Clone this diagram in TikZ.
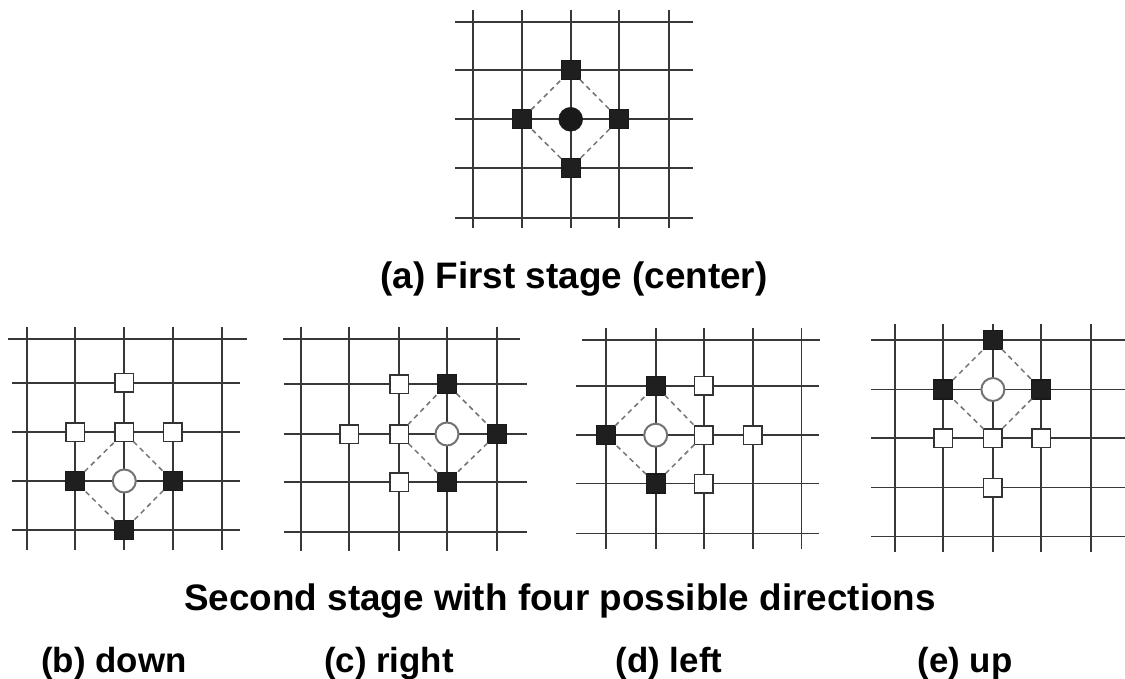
\documentclass[tikz,border=0pt]{standalone}
\usepackage{fontspec}
\setmainfont{Liberation Sans}
% one unit = one point of the page, y grows downwards
\newcommand\latticegrid[6]{% #1 columns, #2 rows, #3/#4 left/right ends, #5/#6 top/bottom ends
  \foreach \gx in {#1} \draw[gridline] (\gx,#5) -- (\gx,#6);
  \foreach \gy in {#2} \draw[gridline] (#3,\gy) -- (#4,\gy);
}
\begin{document}
\begin{tikzpicture}[x=1bp,y=-1bp,
  gridline/.style={line width=1.7bp, draw=black!78},
  fullsq/.style={rectangle, draw=black!90, fill=black!88, line width=1.2bp,
    minimum size=19bp, inner sep=0pt, outer sep=0pt},
  opensq/.style={rectangle, draw=black!80, fill=white, line width=1.5bp,
    minimum size=18.5bp, inner sep=0pt, outer sep=0pt},
  fullpt/.style={circle, draw=black!90, fill=black!90, minimum size=24bp,
    inner sep=0pt, outer sep=0pt},
  openpt/.style={circle, draw=black!55, fill=white, line width=2bp,
    minimum size=23bp, inner sep=0pt, outer sep=0pt},
  link/.style={draw=black!55, dash pattern=on 5bp off 4bp, line width=1.5bp},
  title/.style={font=\fontsize{37}{40}\selectfont\bfseries, anchor=base, inner sep=0pt},
  caption/.style={font=\fontsize{35}{40}\selectfont\bfseries, anchor=base, inner sep=0pt}]

\fill[white] (0,0) rectangle (1125,679);
\useasboundingbox (0,0) rectangle (1125,679);

% ---------- (a) first stage ----------
\latticegrid{473.3,521.7,570.7,619.3,669}{22.3,70.3,119.3,168,218.3}{455}{693}{10}{228}
\node[fullpt] (a-c) at (570.7,119.3) {};
\node[fullsq] (a-n) at (570.7,70.3) {};
\node[fullsq] (a-w) at (521.7,119.3) {};
\node[fullsq] (a-e) at (619.3,119.3) {};
\node[fullsq] (a-s) at (570.7,168) {};
\draw[link] (a-n) -- (a-e);
\draw[link] (a-e) -- (a-s);
\draw[link] (a-s) -- (a-w);
\draw[link] (a-w) -- (a-n);

% ---------- (b) down ----------
\latticegrid{26.7,75,124.3,172.7,222.3}{382.7,432.3,481,530}{12}{240}{327}{549.5}
\draw[gridline] (8,339) -- (247,339);
\node[opensq] (b-o1) at (124.3,382.7) {};
\node[opensq] (b-o2) at (75,432.3) {};
\node[opensq] (b-o3) at (124.3,432.3) {};
\node[opensq] (b-o4) at (172.7,432.3) {};
\node[openpt] (b-c) at (124.3,481) {};
\node[fullsq] (b-w) at (75,481) {};
\node[fullsq] (b-e) at (172.7,481) {};
\node[fullsq] (b-s) at (124.3,530) {};
\draw[link] (b-o3) -- (b-e);
\draw[link] (b-e) -- (b-s);
\draw[link] (b-s) -- (b-w);
\draw[link] (b-w) -- (b-o3);

% ---------- (c) right ----------
\latticegrid{301,349.3,399,447,497}{384,434,482.3,532}{284}{527}{327}{551}
\draw[gridline] (283,339) -- (520,339);
\node[opensq] (c-o1) at (399,384) {};
\node[opensq] (c-o2) at (349.3,434) {};
\node[opensq] (c-o3) at (399,434) {};
\node[opensq] (c-o4) at (399,482.3) {};
\node[openpt] (c-c) at (447,434) {};
\node[fullsq] (c-n) at (447,384) {};
\node[fullsq] (c-e) at (497,434) {};
\node[fullsq] (c-s) at (447,482.3) {};
\draw[link] (c-o3) -- (c-n);
\draw[link] (c-n) -- (c-e);
\draw[link] (c-e) -- (c-s);
\draw[link] (c-s) -- (c-o3);

% ---------- (d) left ----------
\latticegrid{605.7,655.7,703.7,752.7,801.5}{385.7,435.2,483.5,533.5}{576}{819}{328}{549}
\draw[gridline] (582,340) -- (820,340);
\node[openpt] (d-c) at (655.7,435.2) {};
\node[fullsq] (d-n) at (655.7,385.7) {};
\node[fullsq] (d-w) at (605.7,435.2) {};
\node[fullsq] (d-s) at (655.7,483.5) {};
\node[opensq] (d-o1) at (703.7,385.7) {};
\node[opensq] (d-o2) at (703.7,435.2) {};
\node[opensq] (d-o3) at (752.7,435.2) {};
\node[opensq] (d-o4) at (703.7,483.5) {};
\draw[link] (d-n) -- (d-o2);
\draw[link] (d-o2) -- (d-s);
\draw[link] (d-s) -- (d-w);
\draw[link] (d-w) -- (d-n);

% ---------- (e) up ----------
\latticegrid{895,943.3,992.9,1041.2,1090.8}{340,389.5,438,487.5,536.5}{871}{1125}{324}{552}
\node[openpt] (e-c) at (992.9,389.5) {};
\node[fullsq] (e-n) at (992.9,340) {};
\node[fullsq] (e-w) at (943.3,389.5) {};
\node[fullsq] (e-e) at (1041.2,389.5) {};
\node[opensq] (e-o1) at (943.3,438) {};
\node[opensq] (e-o2) at (992.9,438) {};
\node[opensq] (e-o3) at (1041.2,438) {};
\node[opensq] (e-o4) at (992.9,487.5) {};
\draw[link] (e-n) -- (e-e);
\draw[link] (e-e) -- (e-o2);
\draw[link] (e-o2) -- (e-w);
\draw[link] (e-w) -- (e-n);

% ---------- texts ----------
\node[title] (t-a) at (574,288) {(a) First stage (center)};
\node[title] (t-two) at (560,610) {Second stage with four possible directions};
\node[caption] (t-b) at (114,672) {(b) down};
\node[caption] (t-c) at (389,672) {(c) right};
\node[caption] (t-d) at (669,672) {(d) left};
\node[caption] (t-e) at (965,672) {(e) up};
\end{tikzpicture}
\end{document}
